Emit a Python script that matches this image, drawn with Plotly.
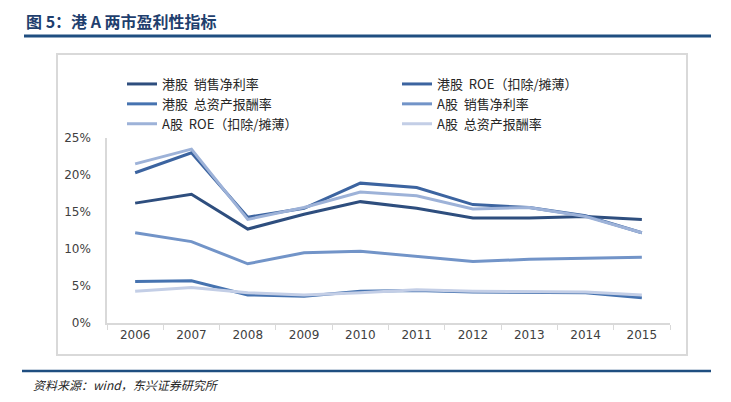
import plotly.graph_objects as go

years = ["2006", "2007", "2008", "2009", "2010", "2011", "2012", "2013", "2014", "2015"]

hk_net_margin = [16.2, 17.4, 12.7, 14.7, 16.4, 15.5, 14.2, 14.2, 14.4, 14.0]
hk_roe = [20.3, 23.0, 14.3, 15.5, 18.9, 18.3, 16.0, 15.6, 14.5, 12.2]
hk_roa = [5.6, 5.7, 3.8, 3.6, 4.3, 4.4, 4.2, 4.1, 4.1, 3.4]
a_net_margin = [12.2, 11.0, 8.0, 9.5, 9.7, 9.0, 8.3, 8.6, 8.8, 8.9]
a_roe = [21.5, 23.5, 14.0, 15.6, 17.7, 17.2, 15.4, 15.6, 14.4, 12.2]
a_roa = [4.3, 4.8, 4.1, 3.8, 4.1, 4.5, 4.3, 4.3, 4.2, 3.8]

series_names = [
    "港股  销售净利率",
    "港股  ROE（扣除/摊薄）",
    "港股  总资产报酬率",
    "A股  销售净利率",
    "A股  ROE（扣除/摊薄）",
    "A股  总资产报酬率",
]
series_values = [hk_net_margin, hk_roe, hk_roa, a_net_margin, a_roe, a_roa]
series_colors = ["#2E4E7E", "#3C64A0", "#4673B0", "#7294C8", "#9DB2D8", "#C3CEE6"]
series_legend = ["legend", "legend2", "legend", "legend2", "legend", "legend2"]

y_ticks = [0, 5, 10, 15, 20, 25]
y_tick_labels = ["0%", "5%", "10%", "15%", "20%", "25%"]

title_text = "图 5：港 A 两市盈利性指标"
source_text = "资料来源：wind，东兴证券研究所"

# pixel geometry (axes area: x 107..670, y 138..323; paper area top at 50)
L, R, B = 107, 670, 323
T_AX = 138
T = 50
W, H = 731, 402


def px_x(p):
    return (p - L) / (R - L)


def px_y(p):
    return (B - p) / (B - T)


fig = go.Figure()
for name, vals, col, lg in zip(series_names, series_values, series_colors, series_legend):
    fig.add_trace(go.Scatter(
        x=years, y=vals, name=name, mode="lines",
        line=dict(color=col, width=3),
        legend=lg, hoverinfo="skip",
    ))

legend_font = dict(family="Noto Sans CJK SC", size=13, color="#262626")
fig.update_layout(
    width=W, height=H,
    margin=dict(l=L, r=W - R, t=T, b=H - B),
    paper_bgcolor="white", plot_bgcolor="white",
    showlegend=True,
    legend=dict(x=px_x(122), y=px_y(69), xanchor="left", yanchor="top",
                orientation="v", bgcolor="rgba(0,0,0,0)", font=legend_font,
                traceorder="normal"),
    legend2=dict(x=px_x(397), y=px_y(69), xanchor="left", yanchor="top",
                 orientation="v", bgcolor="rgba(0,0,0,0)", font=legend_font,
                 traceorder="normal"),
    xaxis=dict(
        type="category", range=[-0.5, 9.5], automargin=False,
        showgrid=False, zeroline=False,
        showline=True, linecolor="#D9D9D9", linewidth=1.5,
        ticks="outside", tickson="boundaries", ticklen=5, tickcolor="#D9D9D9",
        tickfont=dict(family="DejaVu Sans", size=12, color="#404040"),
    ),
    yaxis=dict(
        domain=[0, (B - T_AX) / (B - T)], automargin=False,
        range=[0, 25], tickvals=y_ticks, ticktext=y_tick_labels,
        showgrid=False, zeroline=False,
        showline=True, linecolor="#D9D9D9", linewidth=1.5,
        ticks="", ticklabelstandoff=12,
        tickfont=dict(family="DejaVu Sans", size=12, color="#404040"),
    ),
    shapes=[
        dict(type="rect", xref="paper", yref="paper",
             x0=px_x(57), x1=px_x(687), y0=px_y(355), y1=px_y(54),
             line=dict(color="#D9D9D9", width=2), fillcolor="rgba(0,0,0,0)", layer="below"),
        dict(type="line", xref="paper", yref="paper",
             x0=px_x(24), x1=px_x(711), y0=px_y(36), y1=px_y(36),
             line=dict(color="#1F4E80", width=3)),
        dict(type="line", xref="paper", yref="paper",
             x0=px_x(22), x1=px_x(711), y0=px_y(371), y1=px_y(371),
             line=dict(color="#1F4E80", width=2.5)),
    ],
    annotations=[
        dict(text="<b>" + title_text + "</b>", xref="paper", yref="paper",
             x=px_x(24), y=px_y(21), xanchor="left", yanchor="middle",
             showarrow=False,
             font=dict(family="Noto Sans CJK SC", size=16, color="#1F3F6E")),
        dict(text="<i>" + source_text + "</i>", xref="paper", yref="paper",
             x=px_x(31), y=px_y(384), xanchor="left", yanchor="middle",
             showarrow=False,
             font=dict(family="Noto Sans CJK SC", size=12, color="#262626")),
    ],
)

fig.write_html(
    "out.html",
    config={"displayModeBar": False},
    post_script="document.body.style.margin='0';document.body.style.overflow='hidden';",
)
